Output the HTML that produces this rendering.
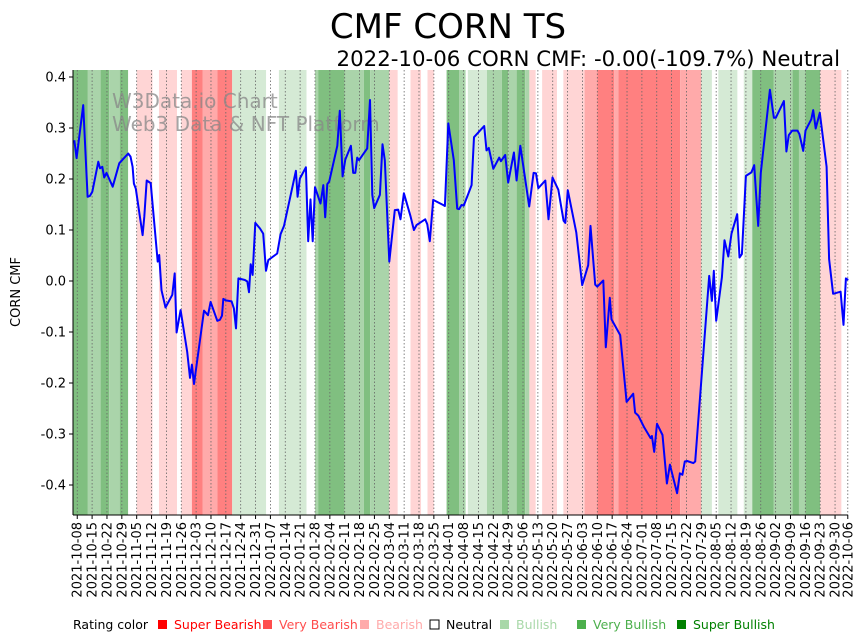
<!DOCTYPE html>
<html><head><meta charset="utf-8"><style>
body{margin:0;background:#fff;}
svg{display:block;font-family:"Liberation Sans","DejaVu Sans",sans-serif;}
</style></head><body>
<svg id="chart" width="867" height="641" viewBox="0 0 867 641">
<text x="448" y="38" text-anchor="middle" font-size="34" font-family="DejaVu Sans, sans-serif">CMF CORN TS</text>
<text x="840" y="66" text-anchor="end" font-size="21.3" font-family="DejaVu Sans, sans-serif">2022-10-06 CORN CMF: -0.00(-109.7%) Neutral</text>
<g id="bands"></g>
<g id="grid"></g>
<text x="112" y="108" font-size="20" fill="#888" opacity="0.75" font-family="DejaVu Sans, sans-serif">W3Data.io Chart</text>
<text x="112" y="131" font-size="20" fill="#888" opacity="0.75" font-family="DejaVu Sans, sans-serif">Web3 Data &amp; NFT Platform</text>
<g id="series"></g>
<g id="axes"></g>
<text transform="translate(20,292) rotate(-90)" text-anchor="middle" font-size="13" font-family="DejaVu Sans, sans-serif">CORN CMF</text>
<g id="legend" font-size="12.5" font-family="DejaVu Sans, sans-serif"></g>
</svg>
<script>
const bandStarts=[-2,5,11,15,20,24,28,35.5,38.5,47,49,54,59,66,73,89,95,108,112,113.5,126,135,138,147,151,157,162,165,168,174,180,183,184,193,200,203,207,211,213,216,219,226,229,239,245,253,255,284,294,299,302,311,314,318,328,337,340,343,350,360];
const bandRatings=[3,2,3,2,3,0,-1,0,-1,0,-1,-3,-2,-3,1,0,1,0,2,3,2,3,2,-1,0,-1,0,-1,0,3,2,0,1,2,3,2,3,2,-1,0,-1,0,-1,-2,-3,-2,-3,-2,1,0,1,0,1,3,2,3,2,3,-1,0];
const days=[-1.4,-0.3,2.8,4.9,6.0,7.1,9.9,10.7,11.8,12.7,13.8,16.7,19.8,24.0,25.1,26.1,26.7,27.6,30.8,31.6,32.7,34.6,37.9,38.6,39.7,41.6,44.8,45.9,46.8,48.7,51.8,53.1,54.0,55.0,59.7,61.6,62.8,66.0,67.2,68.2,68.8,70.0,72.7,73.8,74.8,75.9,79.0,80.1,80.9,81.7,82.6,83.9,86.1,87.6,88.9,90.0,93.6,94.2,95.8,97.4,103.0,103.8,104.9,107.7,108.8,109.9,110.9,112.0,114.6,115.9,116.8,117.8,118.7,122.5,123.7,125.0,126.3,128.9,130.0,131.0,131.9,132.8,136.6,137.9,139.0,139.9,142.6,143.8,144.9,147.0,149.6,151.2,152.3,153.9,157.0,158.6,159.9,163.9,164.9,166.1,167.7,172.4,173.2,174.8,177.4,179.0,179.9,181.0,182.1,185.8,186.9,191.7,192.8,193.9,196.0,198.8,199.6,201.6,203.0,205.7,207.0,208.7,212.9,215.0,216.1,217.2,220.5,222.0,223.9,226.6,229.1,229.9,231.1,235.1,237.9,240.7,241.8,244.0,245.0,247.8,249.0,250.9,251.7,255.8,258.8,261.9,262.8,264.3,267.1,270.1,270.7,271.8,273.1,275.7,277.8,279.2,282.6,283.9,285.1,286.2,287.3,290.2,291.1,297.7,299.0,299.9,301.0,303.7,304.9,306.7,308.2,310.9,312.0,313.1,315.0,317.6,318.9,320.8,322.0,326.3,328.2,329.1,332.9,334.1,335.2,336.8,339.3,340.2,342.0,343.1,345.8,346.7,347.9,349.8,353.0,354.2,356.1,359.6,361.0,362.1,363.2];
const cmf=[0.276,0.241,0.345,0.165,0.167,0.175,0.234,0.221,0.224,0.203,0.212,0.185,0.231,0.250,0.244,0.224,0.191,0.181,0.090,0.126,0.197,0.192,0.038,0.051,-0.018,-0.052,-0.027,0.015,-0.101,-0.057,-0.139,-0.190,-0.164,-0.202,-0.058,-0.067,-0.041,-0.078,-0.076,-0.068,-0.035,-0.038,-0.040,-0.054,-0.093,0.005,0.002,-0.001,-0.022,0.033,0.012,0.114,0.103,0.093,0.020,0.041,0.052,0.054,0.092,0.108,0.216,0.165,0.201,0.223,0.078,0.160,0.078,0.184,0.152,0.188,0.125,0.190,0.195,0.265,0.334,0.205,0.238,0.265,0.212,0.212,0.242,0.237,0.260,0.355,0.169,0.143,0.169,0.268,0.237,0.038,0.139,0.140,0.121,0.172,0.127,0.100,0.110,0.121,0.111,0.078,0.159,0.149,0.147,0.309,0.237,0.142,0.141,0.149,0.148,0.188,0.282,0.304,0.256,0.261,0.220,0.242,0.235,0.247,0.193,0.252,0.197,0.265,0.146,0.212,0.211,0.182,0.197,0.121,0.203,0.179,0.118,0.114,0.178,0.095,-0.008,0.031,0.108,-0.007,-0.011,0.001,-0.130,-0.033,-0.075,-0.106,-0.237,-0.221,-0.258,-0.264,-0.287,-0.308,-0.304,-0.335,-0.280,-0.302,-0.397,-0.360,-0.416,-0.377,-0.380,-0.354,-0.353,-0.357,-0.354,0.010,-0.039,0.020,-0.078,0.007,0.080,0.048,0.093,0.131,0.046,0.053,0.206,0.213,0.227,0.108,0.212,0.375,0.320,0.320,0.353,0.254,0.286,0.295,0.295,0.288,0.255,0.295,0.317,0.335,0.299,0.330,0.224,0.043,-0.025,-0.021,-0.086,0.005,0.002];
const yTicks=[-0.4,-0.3,-0.2,-0.1,0.0,0.1,0.2,0.3,0.4];
const xTickDays=[];for(let d=0;d<=357;d+=7)xTickDays.push(d);xTickDays.push(363);
const startDate=Date.UTC(2021,9,8);
const xTickLabels=xTickDays.map(d=>new Date(startDate+d*864e5).toISOString().slice(0,10));
const legendLabels=["Super Bearish","Very Bearish","Bearish","Neutral","Bullish","Very Bullish","Super Bullish"];

const L=73,R=848,T=70,B=515,D0=-2,D1=363.1;
const x=d=>L+(d-D0)/(D1-D0)*(R-L);
const y=v=>281-v*510;
const NS="http://www.w3.org/2000/svg";
function mk(tag,attrs,parent){const e=document.createElementNS(NS,tag);for(const k in attrs)e.setAttribute(k,attrs[k]);parent.appendChild(e);return e;}
const bandColor={"-3":"#ff8080","-2":"#ffaaaa","-1":"#ffd5d5","0":"#ffffff","1":"#d5ead5","2":"#aad4aa","3":"#80bf80"};
const gB=document.getElementById('bands');
bandStarts.forEach((s,i)=>{const e=i+1<bandStarts.length?bandStarts[i+1]:D1;
 const r=mk('rect',{x:x(s),y:T,width:Math.max(0,x(e)-x(s)),height:B-T,fill:bandColor[bandRatings[i]]},gB);
 
 });
const gG=document.getElementById('grid');
xTickDays.forEach(d=>{const l=mk('line',{x1:x(d),x2:x(d),y1:T,y2:B,stroke:"#666","stroke-width":0.8,"stroke-dasharray":"1.5,2"},gG);
 
 });
const gS=document.getElementById('series');
const p=mk('polyline',{points:days.map((d,i)=>x(d).toFixed(1)+","+y(cmf[i]).toFixed(1)).join(" "),fill:"none",stroke:"#0000ff","stroke-width":2,"stroke-linejoin":"round"},gS);


const gA=document.getElementById('axes');
mk('line',{x1:L,x2:L,y1:T,y2:B,stroke:"#000","stroke-width":1},gA);
mk('line',{x1:L,x2:R,y1:B,y2:B,stroke:"#000","stroke-width":1},gA);
yTicks.forEach(v=>{mk('line',{x1:L-4,x2:L,y1:y(v),y2:y(v),stroke:"#000"},gA);
 const t=mk('text',{x:L-7,y:y(v)+4.5,"text-anchor":"end","font-size":13,"font-family":"DejaVu Sans, sans-serif"},gA);
 t.textContent=v.toFixed(1);
 
 });
xTickDays.forEach((d,i)=>{mk('line',{x1:x(d),x2:x(d),y1:B,y2:B+4,stroke:"#000"},gA);
 const t=mk('text',{transform:`translate(${x(d)+4.5},${B+7}) rotate(-90)`,"text-anchor":"end","font-size":13,"font-family":"DejaVu Sans, sans-serif"},gA);
 t.textContent=xTickLabels[i];
 
 });
const gL=document.getElementById('legend');
const lt=mk('text',{x:73,y:629},gL);lt.textContent="Rating color";
const legX=[158,263,360,430,500,577,677];
const legCol=["#ff0000","#ff4d4d","#ffaaaa","#ffffff","#a8d8a8","#4caf4c","#008000"];
const legText=["#ff0000","#ff4d4d","#ffaaaa","#000000","#a8d8a8","#4caf4c","#008000"];
legendLabels.forEach((s,i)=>{
 const r=mk('rect',{x:legX[i],y:620,width:9,height:9,fill:legCol[i],stroke:i==3?"#000":"none","stroke-width":1},gL);
 
 
 const t=mk('text',{x:legX[i]+16,y:629,fill:legText[i]},gL);t.textContent=s;
 
 });
</script>
</body></html>
